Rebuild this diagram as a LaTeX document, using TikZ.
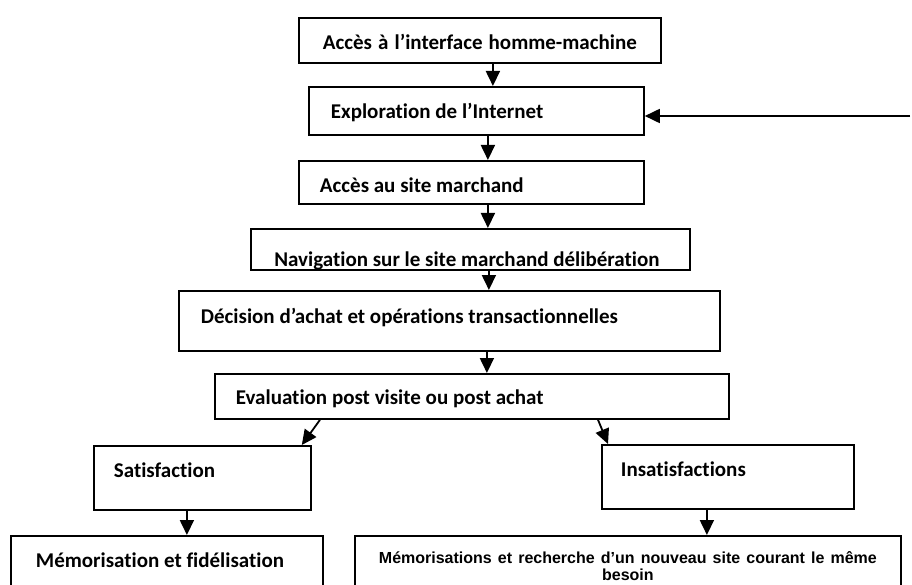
\documentclass[tikz,border=0pt]{standalone}
\usepackage{fontspec}
\setmainfont{Carlito}[Ligatures={NoCommon}]
\newfontfamily\arialfam{Liberation Sans}
\newcommand\natsp{\spaceskip=0pt\xspaceskip=0pt\relax}
\usetikzlibrary{arrows.meta,calc}
\begin{document}
\begin{tikzpicture}[x=1pt,y=-1pt,
  box/.style={draw, line width=1.8pt, inner ysep=0pt, anchor=north west},
  lbl/.style={font=\fontsize{21}{25}\selectfont\bfseries},
  arr/.style={line width=1.8pt, -{Triangle[width=14pt,length=15pt]}}]
\useasboundingbox (0,0) rectangle (912,585);

% boxes
\node[box, lbl, inner xsep=0pt, minimum width=362pt, minimum height=45pt, text width=362pt, align=center,
      text height=18.6pt, text depth=0pt] (b1) at (298,17) {\natsp Accès à l’interface homme-machine};
\node[box, lbl, inner xsep=22pt, minimum width=335pt, minimum height=48pt, text width=291pt, align=left,
      text height=15.6pt, text depth=0pt] (b2) at (308,86) {\natsp Exploration de l’Internet};
\node[box, lbl, inner xsep=21pt, minimum width=345pt, minimum height=43pt, text width=303pt, align=left,
      text height=20.6pt, text depth=0pt] (b3) at (298,160) {\natsp Accès au site marchand};
\node[box, minimum width=439pt, minimum height=41pt, inner xsep=0pt,
      path picture={\node[lbl, anchor=base, inner sep=0pt] at ([xshift=-3.5pt,yshift=3pt]path picture bounding box.south) {Navigation sur le site marchand délibération};}]
      (b4) at (250,228) {};
\node[box, lbl, inner xsep=22pt, minimum width=541pt, minimum height=60pt, text width=497pt, align=left,
      text height=15pt, text depth=9.4pt] (b5) at (178,290) {\natsp Décision d’achat et opérations transactionnelles};
\node[box, lbl, inner xsep=21pt, minimum width=514pt, minimum height=45pt, text width=472pt, align=left,
      text height=16.6pt, text depth=0pt] (ev) at (214,373) {\natsp Evaluation post visite ou post achat};
\node[box, lbl, inner xsep=20pt, minimum width=217pt, minimum height=64pt, text width=177pt, align=left,
      text height=15pt, text depth=15.4pt] (sat) at (93,445) {\natsp Satisfaction};
\node[box, lbl, inner xsep=19pt, minimum width=252pt, minimum height=64pt, text width=214pt, align=left,
      text height=15pt, text depth=15.4pt] (ins) at (601,444) {\natsp Insatisfactions};
\node[box, lbl, inner xsep=25pt, minimum width=312pt, minimum height=60pt, text width=262pt, align=left,
      text height=15pt, text depth=11.4pt] (mem) at (10,535) {\natsp Mémorisation et fidélisation};
\node[box, inner xsep=0pt, minimum width=546pt, minimum height=60pt, text width=546pt, align=center,
      font=\arialfam\fontsize{16}{17}\selectfont\bfseries] (rech) at (354,535)
      {\natsp Mémorisations et recherche d’un nouveau site courant le même\\besoin};

% connectors
\draw[arr] ([xshift=13pt]b1.south) -- ([xshift=13pt]b1.south |- b2.north);
\draw[arr] ([xshift=11.5pt]b2.south) -- ([xshift=11.5pt]b2.south |- b3.north);
\draw[arr] ([xshift=16.5pt]b3.south) -- ([xshift=16.5pt]b3.south |- b4.north);
\draw[arr] ([xshift=18.5pt]b4.south) -- ([xshift=18.5pt]b4.south |- b5.north);
\draw[arr] ([xshift=37.5pt]b5.south) -- ([xshift=37.5pt]b5.south |- ev.north);
\draw[arr] ($(ev.south west)+(106,0)$) -- ($(sat.north east)+(-10,0)$);
\draw[arr] ($(ev.south west)+(384,0)$) -- ($(ins.north west)+(7,0)$);
\draw[arr] ([xshift=-15.5pt]sat.south) -- ([xshift=-15.5pt]sat.south |- mem.north);
\draw[arr] ([xshift=-21pt]ins.south) -- ([xshift=-21pt]ins.south |- rech.north);
\coordinate (rin) at (910,116);
\draw[arr] (rin) -- (rin -| b2.east);
\end{tikzpicture}
\end{document}
